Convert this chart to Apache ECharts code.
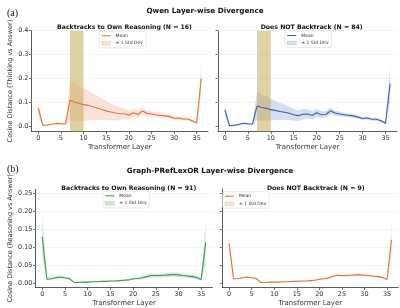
<!DOCTYPE html>
<html><head><meta charset="utf-8">
<script src="https://cdn.jsdelivr.net/npm/echarts@6/dist/echarts.min.js"></script>
<style>html,body{margin:0;padding:0;background:#fff}#c{width:400px;height:308px}</style>
</head><body><div id="c"></div>
<script>
const layers = [0,1,2,3,4,5,6,7,8,9,10,11,12,13,14,15,16,17,18,19,20,21,22,23,24,25,26,27,28,29,30,31,32,33,34,35,36];
const xTicks = [0,5,10,15,20,25,30,35];
const yTicksTop = [0,0.1,0.2,0.3,0.4];
const yTicksBottom = [0,0.05,0.1,0.15,0.2,0.25];
const highlightLayers = [7, 10];

const qwenBackMean = [0.077,0.006,0.007,0.010,0.013,0.012,0.011,0.111,0.103,0.097,0.092,0.089,0.083,0.078,0.072,0.066,0.061,0.057,0.055,0.054,0.048,0.058,0.051,0.065,0.056,0.053,0.050,0.047,0.045,0.042,0.035,0.036,0.032,0.032,0.025,0.015,0.200];
const qwenBackStd  = [0.030,0.004,0.004,0.004,0.004,0.004,0.004,0.085,0.080,0.074,0.068,0.062,0.056,0.050,0.045,0.040,0.035,0.031,0.027,0.023,0.019,0.017,0.015,0.014,0.012,0.011,0.010,0.009,0.008,0.008,0.007,0.007,0.006,0.006,0.006,0.005,0.070];
const qwenNoMean   = [0.070,0.004,0.006,0.009,0.014,0.012,0.011,0.086,0.080,0.077,0.071,0.068,0.063,0.060,0.056,0.050,0.046,0.052,0.053,0.047,0.058,0.050,0.051,0.066,0.057,0.053,0.050,0.047,0.045,0.040,0.034,0.036,0.031,0.031,0.025,0.014,0.180];
const qwenNoStd    = [0.025,0.004,0.004,0.004,0.004,0.004,0.004,0.060,0.055,0.050,0.045,0.040,0.036,0.032,0.028,0.025,0.022,0.022,0.020,0.018,0.017,0.015,0.014,0.013,0.011,0.010,0.009,0.008,0.008,0.007,0.007,0.006,0.006,0.006,0.006,0.005,0.075];
const graphBackMean = [0.128,0.011,0.012,0.015,0.017,0.015,0.012,0.002,0.002,0.003,0.003,0.004,0.004,0.005,0.005,0.006,0.006,0.007,0.008,0.009,0.012,0.013,0.015,0.018,0.021,0.021,0.021,0.022,0.023,0.024,0.023,0.021,0.020,0.018,0.016,0.010,0.112];
const graphBackStd  = [0.060,0.003,0.003,0.004,0.004,0.003,0.003,0.001,0.001,0.001,0.001,0.001,0.001,0.001,0.001,0.001,0.002,0.002,0.002,0.002,0.003,0.003,0.004,0.004,0.005,0.005,0.005,0.005,0.006,0.006,0.006,0.005,0.005,0.005,0.004,0.003,0.060];
const graphNoMean   = [0.110,0.012,0.013,0.015,0.017,0.015,0.013,0.002,0.002,0.003,0.003,0.003,0.004,0.004,0.005,0.005,0.006,0.006,0.007,0.008,0.011,0.012,0.014,0.019,0.022,0.021,0.021,0.022,0.023,0.023,0.022,0.021,0.019,0.018,0.016,0.010,0.120];
const graphNoStd    = [0.025,0.002,0.002,0.002,0.002,0.002,0.002,0.001,0.001,0.001,0.001,0.001,0.001,0.001,0.001,0.001,0.001,0.001,0.002,0.002,0.002,0.002,0.003,0.003,0.003,0.003,0.003,0.003,0.003,0.003,0.003,0.003,0.003,0.003,0.003,0.002,0.045];

const ORANGE = '#e0743a', BLUE = '#3b61a8', GREEN = '#3a9b4b';
const FONT = 'DejaVu Sans';

const chart = echarts.init(document.getElementById('c'), null, {renderer:'canvas'});

const grids = [
  {left:31.5, top:30.7, width:176.5, height:100.8},
  {left:218, top:30.7, width:179, height:100.8},
  {left:35.5, top:189.2, width:177, height:101.6},
  {left:222.3, top:189.2, width:176, height:101.6}
];

function xAxis(i){
  return {gridIndex:i, type:'value', min:-1.5, max:37.5,
    axisLine:{onZero:false, lineStyle:{color:'#333', width:0.8}},
    axisTick:{show:true, length:2.5, customValues:xTicks, lineStyle:{color:'#333', width:0.7}},
    axisLabel:{customValues:xTicks, fontSize:6.5, color:'#333', fontFamily:FONT, margin:3},
    splitLine:{show:false},
    name:'Transformer Layer', nameLocation:'middle', nameGap:12.5,
    nameTextStyle:{fontSize:7, color:'#333', fontFamily:FONT}};
}
function yAxis(i, top, showLabel, name, gap){
  const ticks = top ? yTicksTop : yTicksBottom;
  return {gridIndex:i, type:'value', min: top ? -0.02 : -0.012, max: top ? 0.4 : 0.26,
    axisLine:{show:true, onZero:false, lineStyle:{color:'#333', width:0.8}},
    axisTick:{show:true, length:2.5, customValues:ticks, lineStyle:{color:'#333', width:0.7}},
    axisLabel:{show:showLabel, customValues:ticks, fontSize:6.5, color:'#333', fontFamily:FONT, margin:3,
      formatter: v => top ? v.toFixed(1) : v.toFixed(2)},
    splitLine:{show:false},
    name: name || '', nameLocation:'middle', nameGap:gap || 0,
    nameTextStyle:{fontSize:6.5, color:'#333', fontFamily:FONT}};
}

function pairs(arr){ return layers.map((l,k)=>[l, arr[k]]); }
function bandData(mean, std){ return layers.map((l,k)=>[l, mean[k]-std[k], mean[k]+std[k]]); }

const series = [];
const legends = [];
const panels = [
  {i:0, mean:qwenBackMean, std:qwenBackStd, color:ORANGE, band:'rgba(240,150,115,0.28)', edge:'rgba(240,150,115,0.5)', hi:true, top:true, leg:{left:99.3, top:31.3}},
  {i:1, mean:qwenNoMean, std:qwenNoStd, color:BLUE, band:'rgba(105,140,205,0.28)', edge:'rgba(105,140,205,0.5)', hi:true, top:true, leg:{left:285, top:31}},
  {i:2, mean:graphBackMean, std:graphBackStd, color:GREEN, band:'rgba(75,170,95,0.25)', edge:'rgba(75,170,95,0.5)', hi:false, top:false, leg:{left:103, top:191.3}},
  {i:3, mean:graphNoMean, std:graphNoStd, color:ORANGE, band:'rgba(240,150,115,0.28)', edge:'rgba(240,150,115,0.5)', hi:false, top:false, leg:{left:222.7, top:191.7}}
];

panels.forEach(p=>{
  const gridLines = (p.top ? yTicksTop : yTicksBottom).filter(v=>v>0).map(v=>({yAxis:v}));
  const bd = bandData(p.mean, p.std);
  series.push({type:'custom', name:'std'+p.i, xAxisIndex:p.i, yAxisIndex:p.i, data:bd, z:3, silent:true,
    itemStyle:{color:p.band},
    renderItem:(params, api)=>{
      if (params.dataIndex !== 0) return null;
      const up = bd.map(d=>api.coord([d[0], d[2]]));
      const lo = bd.map(d=>api.coord([d[0], d[1]])).reverse();
      return {type:'polygon', shape:{points:up.concat(lo)}, style:{fill:p.band, stroke:null}};
    },
    markLine:{silent:true, z:1, symbol:'none', label:{show:false}, lineStyle:{color:'#ececec', width:0.6, type:'solid'}, data:gridLines}
  });
  if (p.hi) {
    series.push({type:'line', name:'hl'+p.i, xAxisIndex:p.i, yAxisIndex:p.i, data:pairs(p.mean), z:4, silent:true,
      showSymbol:false, symbol:'none', lineStyle:{opacity:0},
      markArea:{silent:true, z:4, itemStyle:{color:'rgba(196,172,90,0.55)'}, data:[[{xAxis:highlightLayers[0]},{xAxis:highlightLayers[1]}]]}});
  }
  series.push({type:'line', name:'mean'+p.i, xAxisIndex:p.i, yAxisIndex:p.i, data:pairs(p.mean),
    showSymbol:false, symbol:'none', lineStyle:{color:p.color, width:1.1}, itemStyle:{color:p.color}, z:6});
  legends.push({left:p.leg.left, top:p.leg.top, orient:'vertical', itemGap:2.5, itemWidth:9, itemHeight:3.5,
    padding:[2,3,2,2], backgroundColor:'#fff', borderColor:'#dcdcdc', borderWidth:0.6, borderRadius:1.5,
    selectedMode:false,
    textStyle:{fontSize:4.5, color:'#333', fontFamily:FONT},
    formatter: n => n.indexOf('mean')===0 ? 'Mean' : '± 1 Std Dev',
    data:[
      {name:'mean'+p.i, icon:'path://M0,0L10,0L10,1.2L0,1.2Z', itemStyle:{color:p.color}},
      {name:'std'+p.i, icon:'rect', itemStyle:{color:p.band, borderColor:p.edge, borderWidth:0.5}}
    ]});
});

const titleStyle = {fontFamily:FONT, fontWeight:'bold', color:'#111'};
const option = {
  animation:false,
  backgroundColor:'#fff',
  title:[
    {text:'(a)', left:2, top:3, textStyle:{fontFamily:'Liberation Serif', fontWeight:'normal', fontSize:10, color:'#111'}},
    {text:'Qwen Layer-wise Divergence', left:200, top:2.5, textAlign:'center', textStyle:Object.assign({fontSize:7.2}, titleStyle)},
    {text:'Backtracks to Own Reasoning (N = 16)', left:119.5, top:19.5, textAlign:'center', textStyle:Object.assign({fontSize:6.2}, titleStyle)},
    {text:'Does NOT Backtrack (N = 84)', left:306.7, top:19.5, textAlign:'center', textStyle:Object.assign({fontSize:6.2}, titleStyle)},
    {text:'(b)', left:2, top:159, textStyle:{fontFamily:'Liberation Serif', fontWeight:'normal', fontSize:10, color:'#111'}},
    {text:'Graph-PRefLexOR Layer-wise Divergence', left:205, top:162.5, textAlign:'center', textStyle:Object.assign({fontSize:7.2}, titleStyle)},
    {text:'Backtracks to Own Reasoning (N = 91)', left:123.8, top:180, textAlign:'center', textStyle:Object.assign({fontSize:6.2}, titleStyle)},
    {text:'Does NOT Backtrack (N = 9)', left:310.8, top:180, textAlign:'center', textStyle:Object.assign({fontSize:6.2}, titleStyle)}
  ],
  grid:grids,
  xAxis:[xAxis(0), xAxis(1), xAxis(2), xAxis(3)],
  yAxis:[
    yAxis(0, true, true, 'Cosine Distance (Thinking vs Answer)', 17.5),
    yAxis(1, true, false),
    yAxis(2, false, true, 'Cosine Distance (Reasoning vs Answer)', 21.5),
    yAxis(3, false, false)
  ],
  legend:legends,
  series:series
};
chart.setOption(option);
</script></body></html>
